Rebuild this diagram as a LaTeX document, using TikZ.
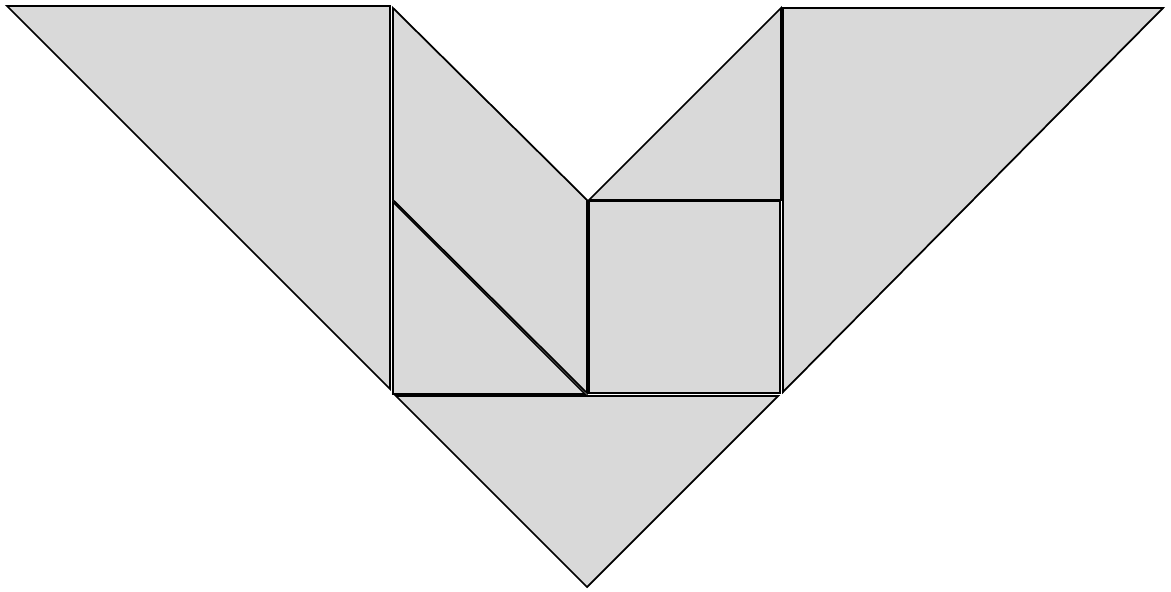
\documentclass[tikz,border=0pt]{standalone}
\usepackage{xcolor}
\definecolor{tangray}{RGB}{217,217,217}
\usetikzlibrary{calc}
\begin{document}
\begin{tikzpicture}[x=0.02cm, y=-0.02cm,
  piece/.style={fill=tangray, draw=black, line width=1pt, line join=miter}]
\useasboundingbox (0,0) rectangle (1171,592);
% large triangles
\filldraw[piece] (7,6) -- (390,6) -- (390,389) -- cycle;
\filldraw[piece] (783,8) -- (1163,8) -- (783,392) -- cycle;
% parallelogram and small triangles
\filldraw[piece] (393,8) -- (587,200) -- (587,393) -- (393,200) -- cycle;
\filldraw[piece] (393,202) -- (585,394) -- (393,394) -- cycle;
\filldraw[piece] (589,200) -- (781,8) -- (781,200) -- cycle;
% square
\filldraw[piece] (589,201) rectangle (780,393);
% medium triangle
\filldraw[piece] (396,396) -- (778,396) -- (587,587) -- cycle;
\end{tikzpicture}
\end{document}
